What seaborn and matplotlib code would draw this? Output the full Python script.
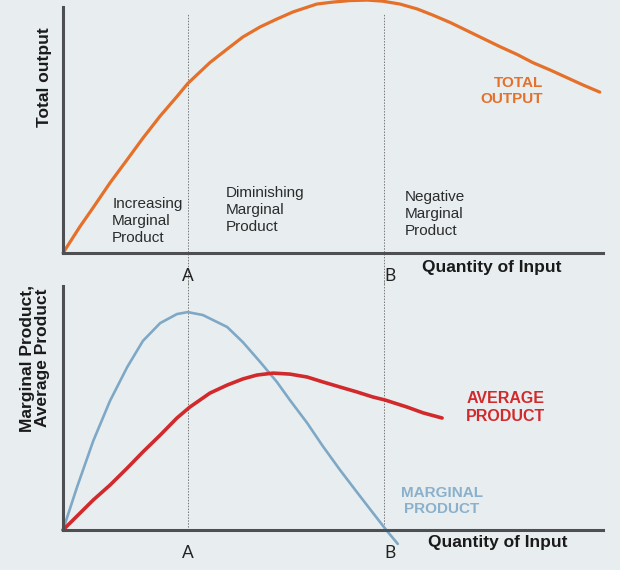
import matplotlib
matplotlib.use("Agg")
import matplotlib.pyplot as plt
import seaborn as sns
import pandas as pd

# quantity of input (0-100 along the axis)
total_x = [0, 3.1, 5.6, 8.7, 11.9, 14.8, 18.0, 21.1, 23.1, 27.2, 30.4, 33.3, 36.5,
           39.6, 42.6, 47.0, 50.0, 53.1, 56.3, 59.1, 62.4, 65.6, 68.5, 71.7, 74.8,
           77.8, 80.9, 84.1, 87.0, 90.2, 93.3, 96.3, 99.4]
total_y = [0, 10.6, 18.5, 28.5, 38.0, 46.7, 55.7, 63.6, 68.9, 77.4, 82.9, 87.8, 91.9,
           95.1, 98.0, 101.2, 102.0, 102.6, 102.8, 102.4, 101.2, 99.2, 96.7, 93.7, 90.4,
           87.2, 83.9, 80.7, 77.4, 74.4, 71.3, 68.3, 65.4]

mp_x = [0, 2.6, 5.6, 8.7, 11.9, 14.8, 18.0, 21.1, 23.1, 25.9, 30.4, 33.3, 36.5,
        39.6, 42.0, 45.2, 48.1, 51.3, 54.4, 57.4, 60.0, 62.0]
mp_y = [0, 17.6, 36.5, 52.9, 66.8, 77.5, 84.8, 88.5, 89.3, 88.1, 83.2, 77.0, 68.9,
        60.7, 53.3, 43.9, 34.4, 24.6, 15.6, 7.0, -0.4, -5.7]

ap_x = [0, 5.6, 8.7, 11.9, 14.8, 18.0, 21.1, 23.5, 27.2, 30.4, 33.3, 35.9, 38.9,
        42.0, 45.2, 48.1, 51.3, 54.4, 57.4, 59.6, 63.7, 66.7, 70.2]
ap_y = [0, 12.3, 18.4, 25.4, 32.0, 38.9, 45.9, 50.4, 56.1, 59.4, 61.9, 63.5, 64.3,
        63.9, 62.7, 60.7, 58.6, 56.6, 54.5, 53.3, 50.4, 48.0, 45.9]

point_a = 23.1
point_b = 59.4

bg = "#e8eef0"
axis_col = "#4d4f52"
orange = "#e4702a"
red = "#d22a2c"
blue = "#7ea8c6"
blue_label = "#8bb0cc"

sns.set_style("white")
plt.rcParams["font.family"] = ["Liberation Sans", "DejaVu Sans"]

fig = plt.figure(figsize=(6.2, 5.7), dpi=100, facecolor=bg)
ax1 = fig.add_axes([63 / 620, 1 - 253 / 570, 540 / 620, 246 / 570])
ax2 = fig.add_axes([63 / 620, 1 - 530 / 570, 540 / 620, 244 / 570])

top = pd.DataFrame({"x": total_x, "y": total_y})
mp = pd.DataFrame({"x": mp_x, "y": mp_y})
ap = pd.DataFrame({"x": ap_x, "y": ap_y})

line_kw = dict(estimator=None, clip_on=False, solid_joinstyle="round",
               solid_capstyle="round")
sns.lineplot(data=top, x="x", y="y", ax=ax1, color=orange, lw=2.3, **line_kw)
sns.lineplot(data=mp, x="x", y="y", ax=ax2, color=blue, lw=1.9, **line_kw)
sns.lineplot(data=ap, x="x", y="y", ax=ax2, color=red, lw=2.6, **line_kw)

for ax in (ax1, ax2):
    ax.set_facecolor(bg)
    ax.set_xlim(0, 100)
    ax.set_ylim(0, 100)
    ax.set_xticks([])
    ax.set_yticks([])
    ax.set_xlabel("")
    ax.set_ylabel("")
    for s in ("top", "right"):
        ax.spines[s].set_visible(False)
    for s in ("left", "bottom"):
        ax.spines[s].set_color(axis_col)
        ax.spines[s].set_linewidth(2.2)
        ax.spines[s].set_zorder(5)

# dotted guide lines at A and B
for x in (point_a, point_b):
    ax1.axvline(x, ymin=-0.15, ymax=0.975, color="#777777", lw=0.7,
                ls=(0, (1.5, 1.5)), clip_on=False, zorder=1)
    ax2.axvline(x, ymin=0, ymax=1.02, color="#777777", lw=0.7,
                ls=(0, (1.5, 1.5)), clip_on=False, zorder=1)

# A / B labels
for ax, y in ((ax1, -9.3), (ax2, -9.4)):
    ax.text(point_a, y, "A", ha="center", va="center", fontsize=12.5,
            family="Lato", color="#222222")
    ax.text(point_b + 1.2, y, "B", ha="center", va="center", fontsize=12.5,
            family="Lato", color="#222222")

ax1.text(66.5, -6, "Quantity of Input", ha="left", va="center", fontsize=12.5,
         fontweight="bold", color="#1a1a1a", clip_on=False)
ax2.text(67.6, -5.3, "Quantity of Input", ha="left", va="center", fontsize=12.5,
         fontweight="bold", color="#1a1a1a", clip_on=False)

# region annotations
region_kw = dict(ha="left", va="center", fontsize=11, color="#2b2b2b",
                 linespacing=1.25)
ax1.text(9.1, 13.0, "Increasing\nMarginal\nProduct", **region_kw)
ax1.text(30.2, 17.5, "Diminishing\nMarginal\nProduct", **region_kw)
ax1.text(63.3, 15.9, "Negative\nMarginal\nProduct", **region_kw)

# curve labels
ax1.text(88.9, 65.9, "TOTAL\nOUTPUT", ha="right", va="center", fontsize=11,
         fontweight="bold", color=orange, linespacing=1.2)
ax2.text(82, 50.2, "AVERAGE\nPRODUCT", ha="center", va="center", fontsize=11.5,
         fontweight="bold", color=red, linespacing=1.2)
ax2.text(70.2, 11.9, "MARGINAL\nPRODUCT", ha="center", va="center", fontsize=11,
         fontweight="bold", color=blue_label, linespacing=1.2)

# axis titles
fig.text(45 / 620, 1 - 77 / 570, "Total output", rotation=90, ha="center",
         va="center", fontsize=12.5, fontweight="bold", color="#1a1a1a")
fig.text(35 / 620, 1 - 358 / 570, "Marginal Product,\nAverage Product",
         rotation=90, ha="center", va="center", fontsize=12.5,
         fontweight="bold", color="#1a1a1a", linespacing=1.05)

fig.savefig("out.png", dpi=100, facecolor=bg)
